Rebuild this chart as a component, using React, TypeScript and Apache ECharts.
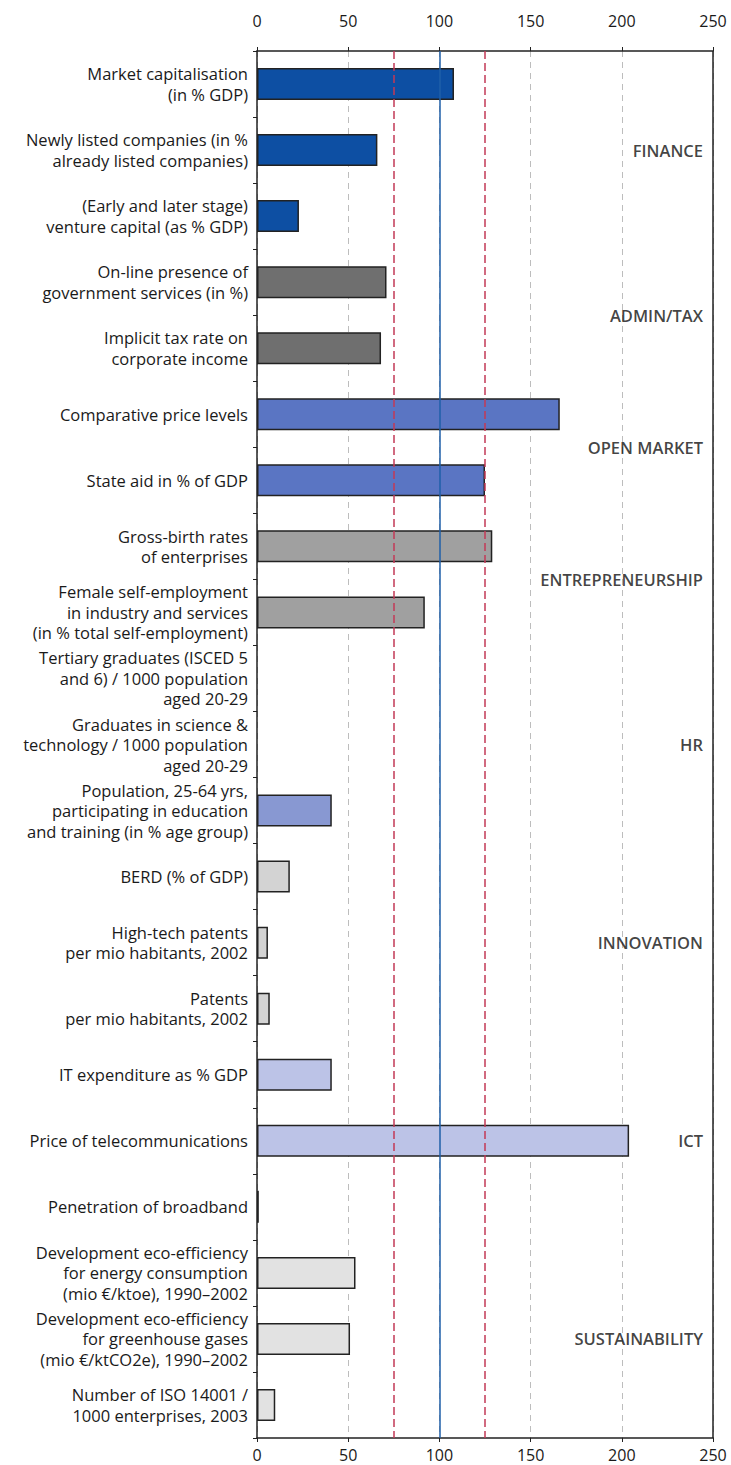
import React, { useEffect, useRef } from "react";
import * as echarts from "echarts";

const categories: string[] = [
  "Market capitalisation\n(in % GDP)",
  "Newly listed companies (in %\nalready listed companies)",
  "(Early and later stage)\nventure capital (as % GDP)",
  "On-line presence of\ngovernment services (in %)",
  "Implicit tax rate on\ncorporate income",
  "Comparative price levels",
  "State aid in % of GDP",
  "Gross-birth rates\nof enterprises",
  "Female self-employment\nin industry and services\n(in % total self-employment)",
  "Tertiary graduates (ISCED 5\nand 6) / 1000 population\naged 20-29",
  "Graduates in science &\ntechnology / 1000 population\naged 20-29",
  "Population, 25-64 yrs,\nparticipating in education\nand training (in % age group)",
  "BERD (% of GDP)",
  "High-tech patents\nper mio habitants, 2002",
  "Patents\nper mio habitants, 2002",
  "IT expenditure as % GDP",
  "Price of telecommunications",
  "Penetration of broadband",
  "Development eco-efficiency\nfor energy consumption\n(mio €/ktoe), 1990–2002",
  "Development eco-efficiency\nfor greenhouse gases\n(mio €/ktCO2e), 1990–2002",
  "Number of ISO 14001 /\n1000 enterprises, 2003",
];

const values: (number | null)[] = [
  108, 66, 23, 71, 68, 166, 125, 129, 92, null, null, 41, 18, 6, 7, 41, 204, 1, 54, 51, 10,
];

const groupNames: string[] = [
  "FINANCE",
  "ADMIN/TAX",
  "OPEN MARKET",
  "ENTREPRENEURSHIP",
  "HR",
  "INNOVATION",
  "ICT",
  "SUSTAINABILITY",
];
const groupSizes: number[] = [3, 2, 2, 2, 3, 3, 3, 3];
const groupColors: string[] = [
  "#0d4fa3",
  "#6f6f6f",
  "#5a75c3",
  "#a0a0a0",
  "#8898d2",
  "#d3d3d3",
  "#bcc3e7",
  "#e2e2e2",
];

const xTicks = { min: 0, max: 250, interval: 50 };
const referenceLines = { low: 75, mid: 100, high: 125 };

export default function App() {
  const ref = useRef<HTMLDivElement>(null);
  useEffect(() => {
    document.body.style.margin = "0";
    const chart = echarts.init(ref.current!, null, { renderer: "svg" });

    const rowColor: string[] = [];
    const groupCenters: number[] = [];
    let start = 0;
    groupSizes.forEach((n, gi) => {
      for (let k = 0; k < n; k++) rowColor.push(groupColors[gi]);
      groupCenters.push(start + n / 2);
      start += n;
    });

    const font = "'Open Sans', sans-serif";
    const axisText = { color: "#1a1a1a", fontSize: 16, fontFamily: font };

    chart.setOption({
      animation: false,
      backgroundColor: "#fff",
      grid: {
        left: 257,
        right: 18,
        top: 51,
        bottom: 27,
        show: false,
      },
      xAxis: [
        {
          type: "value",
          position: "top",
          ...xTicks,
          axisLine: { show: true, lineStyle: { color: "#222", width: 1.5 } },
          axisTick: { show: true, length: 4, lineStyle: { color: "#222" } },
          axisLabel: { ...axisText, margin: 22 },
          splitLine: {
            show: true,
            lineStyle: { color: "#bdbdbd", type: [6, 5], width: 1 },
          },
        },
        {
          type: "value",
          position: "bottom",
          ...xTicks,
          axisLine: { show: true, lineStyle: { color: "#222", width: 1.5 } },
          axisTick: { show: true, length: 4, lineStyle: { color: "#222" } },
          axisLabel: { ...axisText, margin: 9 },
          splitLine: { show: false },
        },
      ],
      yAxis: [
        {
          type: "category",
          data: categories,
          inverse: true,
          axisLine: { show: true, lineStyle: { color: "#222", width: 1.5 } },
          axisTick: { show: true, length: 4, lineStyle: { color: "#222" } },
          axisLabel: {
            color: "#1a1a1a",
            fontSize: 16.5,
            fontFamily: font,
            lineHeight: 20.5,
            align: "right",
            margin: 9,
          },
          splitLine: { show: false },
        },
        {
          type: "value",
          min: 0,
          max: categories.length,
          inverse: true,
          show: false,
        },
      ],
      series: [
        {
          type: "bar",
          xAxisIndex: 0,
          yAxisIndex: 0,
          barWidth: 32,
          data: values.map((v, i) => ({
            value: v,
            itemStyle: { color: rowColor[i], borderColor: "#222", borderWidth: 1.5 },
          })),
          markLine: {
            silent: true,
            symbol: "none",
            label: { show: false },
            z: 5,
            data: [
              { xAxis: referenceLines.low, lineStyle: { color: "#c23a57", type: [8, 4], width: 1.5 } },
              { xAxis: referenceLines.mid, lineStyle: { color: "#1f5fa8", type: "solid", width: 1.5 } },
              { xAxis: referenceLines.high, lineStyle: { color: "#c23a57", type: [8, 4], width: 1.5 } },
              { xAxis: xTicks.max, lineStyle: { color: "#222", type: "solid", width: 1.5 } },
            ],
          },
        },
        {
          type: "scatter",
          xAxisIndex: 0,
          yAxisIndex: 1,
          symbolSize: 0,
          silent: true,
          data: groupNames.map((g, i) => ({ name: g, value: [xTicks.max, groupCenters[i]] })),
          label: {
            show: true,
            position: "left",
            distance: 10,
            formatter: "{b}",
            color: "#111",
            fontSize: 16.5,
            fontFamily: font,
            fontWeight: 600,
          },
        },
      ],
    });
    return () => chart.dispose();
  }, []);
  return <div ref={ref} style={{ width: 731, height: 1465 }} />;
}
